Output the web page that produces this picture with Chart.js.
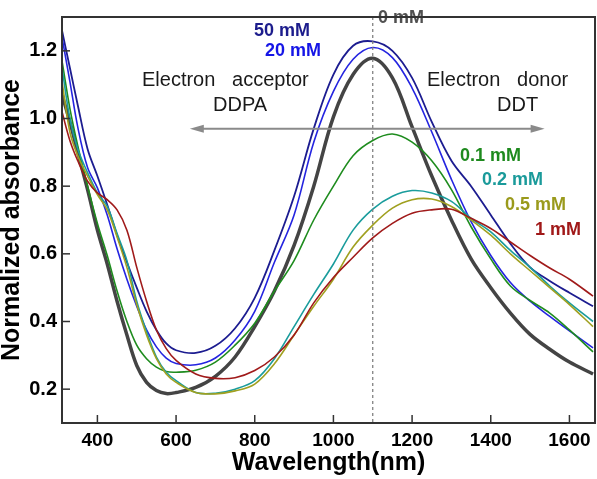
<!DOCTYPE html>
<html>
<head>
<meta charset="utf-8">
<script src="https://cdn.jsdelivr.net/npm/chart.js@4.4.0/dist/chart.umd.min.js"></script>
<style>
  html, body { margin: 0; padding: 0; background: #fff; }
  #wrap { width: 597px; height: 479px; }
</style>
</head>
<body>
<div id="wrap"><canvas id="chart" width="597" height="479"></canvas></div>
<script>
// longueurs d'onde (nm)
const wavelengths = [310, 330, 350, 375, 400, 425, 450, 475, 500, 525, 550, 575, 600, 650, 700, 750, 800, 850, 900, 950, 1000, 1050, 1100, 1150, 1200, 1250, 1300, 1350, 1400, 1450, 1500, 1550, 1600, 1660];

// absorbance normalisée, une liste par concentration
const abs0mM  = [1.07, 0.99, 0.90, 0.79, 0.67, 0.57, 0.46, 0.36, 0.27, 0.22, 0.196, 0.187, 0.19, 0.205, 0.238, 0.295, 0.385, 0.49, 0.625, 0.80, 1.005, 1.13, 1.178, 1.12, 0.975, 0.83, 0.70, 0.585, 0.50, 0.425, 0.362, 0.318, 0.28, 0.245];
const abs50mM = [1.26, 1.15, 1.04, 0.91, 0.83, 0.745, 0.655, 0.575, 0.50, 0.43, 0.375, 0.335, 0.315, 0.307, 0.328, 0.38, 0.47, 0.61, 0.77, 0.97, 1.13, 1.215, 1.228, 1.20, 1.12, 0.99, 0.875, 0.80, 0.715, 0.63, 0.56, 0.52, 0.485, 0.445];
const abs20mM = [1.24, 1.11, 0.975, 0.855, 0.795, 0.715, 0.615, 0.525, 0.445, 0.375, 0.325, 0.292, 0.276, 0.272, 0.292, 0.345, 0.43, 0.575, 0.715, 0.93, 1.08, 1.175, 1.21, 1.18, 1.09, 0.96, 0.82, 0.695, 0.595, 0.515, 0.46, 0.415, 0.372, 0.322];
const abs01mM = [1.17, 1.03, 0.92, 0.80, 0.69, 0.595, 0.49, 0.40, 0.33, 0.29, 0.265, 0.252, 0.25, 0.256, 0.28, 0.33, 0.395, 0.49, 0.58, 0.70, 0.80, 0.89, 0.935, 0.954, 0.93, 0.875, 0.79, 0.68, 0.585, 0.505, 0.462, 0.425, 0.375, 0.31];
const abs02mM = [1.15, 1.00, 0.91, 0.84, 0.78, 0.74, 0.66, 0.58, 0.46, 0.37, 0.295, 0.25, 0.225, 0.19, 0.188, 0.20, 0.225, 0.29, 0.385, 0.48, 0.57, 0.67, 0.732, 0.77, 0.787, 0.78, 0.755, 0.705, 0.665, 0.61, 0.56, 0.505, 0.455, 0.40];
const abs05mM = [1.11, 0.96, 0.89, 0.83, 0.775, 0.73, 0.65, 0.56, 0.45, 0.36, 0.29, 0.245, 0.22, 0.19, 0.186, 0.195, 0.215, 0.275, 0.36, 0.445, 0.525, 0.62, 0.685, 0.735, 0.76, 0.762, 0.74, 0.70, 0.655, 0.60, 0.55, 0.50, 0.45, 0.385];
const abs1mM  = [1.02, 0.935, 0.875, 0.815, 0.78, 0.76, 0.73, 0.67, 0.56, 0.46, 0.375, 0.32, 0.285, 0.245, 0.232, 0.234, 0.255, 0.295, 0.36, 0.455, 0.53, 0.59, 0.647, 0.69, 0.72, 0.73, 0.732, 0.705, 0.675, 0.635, 0.595, 0.558, 0.525, 0.475];

const xTicks = [400, 600, 800, 1000, 1200, 1400, 1600];
const yTicks = [0.2, 0.4, 0.6, 0.8, 1.0, 1.2];

const FONT = '"Liberation Sans", Arial, sans-serif';

function serie(vals, color, width) {
  return {
    data: wavelengths.map((w, i) => ({ x: w, y: vals[i] })),
    borderColor: color,
    borderWidth: width,
    pointRadius: 0,
    fill: false,
    tension: 0.35
  };
}

// dessin des annotations, cadre et graduations intérieures
const decor = {
  id: 'decor',
  afterDatasetsDraw(chart) {
    const ctx = chart.ctx;
    const a = chart.chartArea;
    const xs = chart.scales.x, ys = chart.scales.y;
    ctx.save();

    // ligne pointillée à 1100 nm
    ctx.strokeStyle = '#777';
    ctx.lineWidth = 1.2;
    ctx.setLineDash([3, 3]);
    const xd = xs.getPixelForValue(1100);
    ctx.beginPath(); ctx.moveTo(xd, a.top); ctx.lineTo(xd, a.bottom); ctx.stroke();
    ctx.setLineDash([]);

    // flèche double
    const ya = ys.getPixelForValue(0.97);
    const x1 = xs.getPixelForValue(635), x2 = xs.getPixelForValue(1537);
    ctx.strokeStyle = '#8a8a8a'; ctx.fillStyle = '#8a8a8a'; ctx.lineWidth = 2;
    ctx.beginPath(); ctx.moveTo(x1 + 8, ya); ctx.lineTo(x2 - 8, ya); ctx.stroke();
    ctx.beginPath(); ctx.moveTo(x1, ya); ctx.lineTo(x1 + 14, ya - 4); ctx.lineTo(x1 + 14, ya + 4); ctx.closePath(); ctx.fill();
    ctx.beginPath(); ctx.moveTo(x2, ya); ctx.lineTo(x2 - 14, ya - 4); ctx.lineTo(x2 - 14, ya + 4); ctx.closePath(); ctx.fill();

    // textes
    ctx.textBaseline = 'middle';
    ctx.textAlign = 'left';
    ctx.font = '20px ' + FONT;
    ctx.fillStyle = '#1a1a1a';
    ctx.fillText('Electron   acceptor', 142, 80);
    ctx.fillText('DDPA', 213, 105);
    ctx.fillText('Electron   donor', 427, 80);
    ctx.fillText('DDT', 497, 105);

    ctx.font = 'bold 18px ' + FONT;
    const labels = [
      ['50 mM', '#1c1c8c', 254, 31],
      ['20 mM', '#1515e6', 265, 51],
      ['0 mM', '#505050', 378, 18],
      ['0.1 mM', '#1e8a1e', 460, 156],
      ['0.2 mM', '#1a9a9a', 482, 180],
      ['0.5 mM', '#9a9a1c', 505, 205],
      ['1 mM', '#a01818', 535, 230]
    ];
    labels.forEach(([t, c, x, y]) => { ctx.fillStyle = c; ctx.fillText(t, x, y); });

    // cadre
    ctx.strokeStyle = '#333';
    ctx.lineWidth = 2;
    ctx.strokeRect(a.left, a.top, a.right - a.left, a.bottom - a.top);

    // graduations vers l'intérieur
    ctx.lineWidth = 1.5;
    xTicks.forEach(v => {
      const px = xs.getPixelForValue(v);
      ctx.beginPath(); ctx.moveTo(px, a.bottom); ctx.lineTo(px, a.bottom - 8); ctx.stroke();
    });
    yTicks.forEach(v => {
      const py = ys.getPixelForValue(v);
      ctx.beginPath(); ctx.moveTo(a.left, py); ctx.lineTo(a.left + 8, py); ctx.stroke();
    });

    // titres des axes
    ctx.fillStyle = '#000';
    ctx.font = 'bold 25px ' + FONT;
    ctx.textAlign = 'center';
    ctx.fillText('Wavelength(nm)', (a.left + a.right) / 2, 463);
    ctx.translate(12, (a.top + a.bottom) / 2);
    ctx.rotate(-Math.PI / 2);
    ctx.fillText('Normalized absorbance', 0, 0);
    ctx.restore();
  }
};

new Chart(document.getElementById('chart'), {
  type: 'line',
  data: {
    datasets: [
      serie(abs1mM, '#a01a1a', 1.6),
      serie(abs05mM, '#a0a020', 1.6),
      serie(abs02mM, '#1a9c9c', 1.6),
      serie(abs01mM, '#1e8c1e', 1.6),
      serie(abs20mM, '#2424e0', 1.6),
      serie(abs50mM, '#1c1c90', 1.8),
      serie(abs0mM, '#444444', 3.5)
    ]
  },
  options: {
    responsive: false,
    animation: false,
    layout: { padding: { left: 0, top: 3, right: 2, bottom: 0 } },
    plugins: { legend: { display: false }, tooltip: { enabled: false } },
    scales: {
      x: {
        type: 'linear',
        min: 310,
        max: 1665,
        afterBuildTicks: s => { s.ticks = xTicks.map(v => ({ value: v })); },
        afterFit: s => { s.height = 56; },
        grid: { display: false, drawTicks: false },
        border: { display: false },
        ticks: { color: '#000', padding: 6, font: { family: FONT, size: 19, weight: 'bold' }, callback: v => String(v) }
      },
      y: {
        min: 0.1,
        max: 1.3,
        afterBuildTicks: s => { s.ticks = yTicks.map(v => ({ value: v })); },
        afterFit: s => { s.width = 62; },
        grid: { display: false, drawTicks: false },
        border: { display: false },
        ticks: { color: '#000', padding: 5, font: { family: FONT, size: 20, weight: 'bold' }, callback: v => v.toFixed(1) }
      }
    }
  },
  plugins: [decor]
});
</script>
</body>
</html>
